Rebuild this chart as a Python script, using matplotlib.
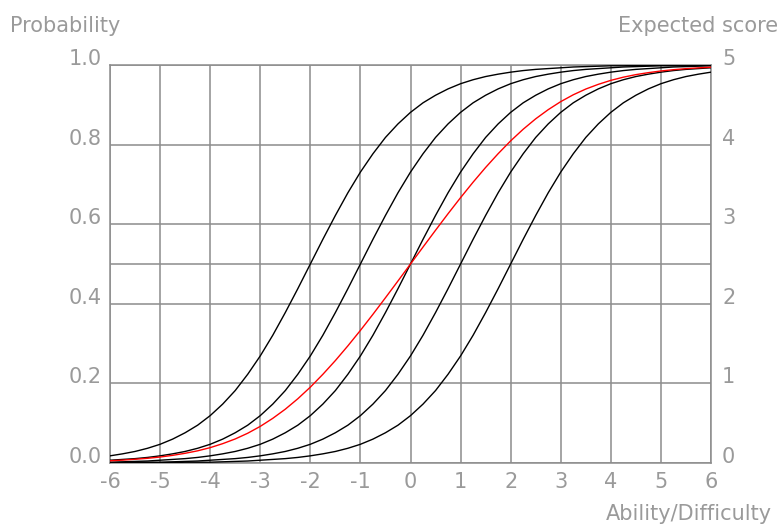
import matplotlib
matplotlib.use("Agg")
import matplotlib.pyplot as plt
import numpy as np

ability = [-6, -5.75, -5.5, -5.25, -5, -4.75, -4.5, -4.25, -4, -3.75, -3.5,
           -3.25, -3, -2.75, -2.5, -2.25, -2, -1.75, -1.5, -1.25, -1, -0.75,
           -0.5, -0.25, 0, 0.25, 0.5, 0.75, 1, 1.25, 1.5, 1.75, 2, 2.25, 2.5,
           2.75, 3, 3.25, 3.5, 3.75, 4, 4.25, 4.5, 4.75, 5, 5.25, 5.5, 5.75, 6]

# probability of success for the five items (difficulty -2, -1, 0, 1, 2)
item_m2 = [0.018, 0.023, 0.029, 0.037, 0.047, 0.060, 0.076, 0.095, 0.119,
           0.148, 0.182, 0.223, 0.269, 0.321, 0.378, 0.438, 0.500, 0.562,
           0.622, 0.679, 0.731, 0.777, 0.818, 0.852, 0.881, 0.905, 0.924,
           0.940, 0.953, 0.963, 0.971, 0.977, 0.982, 0.986, 0.989, 0.991,
           0.993, 0.995, 0.996, 0.997, 0.998, 0.998, 0.999, 0.999, 0.999,
           0.999, 0.999, 1.000, 1.000]
item_m1 = [0.007, 0.009, 0.011, 0.014, 0.018, 0.023, 0.029, 0.037, 0.047,
           0.060, 0.076, 0.095, 0.119, 0.148, 0.182, 0.223, 0.269, 0.321,
           0.378, 0.438, 0.500, 0.562, 0.622, 0.679, 0.731, 0.777, 0.818,
           0.852, 0.881, 0.905, 0.924, 0.940, 0.953, 0.963, 0.971, 0.977,
           0.982, 0.986, 0.989, 0.991, 0.993, 0.995, 0.996, 0.997, 0.998,
           0.998, 0.999, 0.999, 0.999]
item_0 = [0.002, 0.003, 0.004, 0.005, 0.007, 0.009, 0.011, 0.014, 0.018,
          0.023, 0.029, 0.037, 0.047, 0.060, 0.076, 0.095, 0.119, 0.148,
          0.182, 0.223, 0.269, 0.321, 0.378, 0.438, 0.500, 0.562, 0.622,
          0.679, 0.731, 0.777, 0.818, 0.852, 0.881, 0.905, 0.924, 0.940,
          0.953, 0.963, 0.971, 0.977, 0.982, 0.986, 0.989, 0.991, 0.993,
          0.995, 0.996, 0.997, 0.998]
item_p1 = [0.001, 0.001, 0.002, 0.002, 0.002, 0.003, 0.004, 0.005, 0.007,
           0.009, 0.011, 0.014, 0.018, 0.023, 0.029, 0.037, 0.047, 0.060,
           0.076, 0.095, 0.119, 0.148, 0.182, 0.223, 0.269, 0.321, 0.378,
           0.438, 0.500, 0.562, 0.622, 0.679, 0.731, 0.777, 0.818, 0.852,
           0.881, 0.905, 0.924, 0.940, 0.953, 0.963, 0.971, 0.977, 0.982,
           0.986, 0.989, 0.991, 0.993]
item_p2 = [0.000, 0.000, 0.001, 0.001, 0.001, 0.001, 0.002, 0.002, 0.002,
           0.003, 0.004, 0.005, 0.007, 0.009, 0.011, 0.014, 0.018, 0.023,
           0.029, 0.037, 0.047, 0.060, 0.076, 0.095, 0.119, 0.148, 0.182,
           0.223, 0.269, 0.321, 0.378, 0.438, 0.500, 0.562, 0.622, 0.679,
           0.731, 0.777, 0.818, 0.852, 0.881, 0.905, 0.924, 0.940, 0.953,
           0.963, 0.971, 0.977, 0.982]

x_ticks = [-6, -5, -4, -3, -2, -1, 0, 1, 2, 3, 4, 5, 6]
prob_ticks = [0.0, 0.2, 0.4, 0.6, 0.8, 1.0]
score_ticks = [0, 1, 2, 3, 4, 5]

items = [item_m2, item_m1, item_0, item_p1, item_p2]
# expected score (as a fraction of 5) is the mean of the item curves
expected = np.mean(np.array(items), axis=0)

plt.rcParams['font.family'] = ['DejaVu Sans']
plt.rcParams['axes.unicode_minus'] = False

GRID = '#8c8c8c'
TXT = '#9a9a9a'
FS = 15

fig = plt.figure(figsize=(7.79, 5.25), dpi=100)
ax = fig.add_axes([110 / 779, 62 / 525, 601 / 779, 398 / 525])
ax.set_xlim(-6, 6)
ax.set_ylim(0, 1)

# grid: every integer on x, every 0.2 on y plus the 0.5 line
for xv in x_ticks:
    ax.axvline(xv, color=GRID, lw=1.1, zorder=1)
for yv in prob_ticks + [0.5]:
    ax.axhline(yv, color=GRID, lw=1.1, zorder=1)
for s in ax.spines.values():
    s.set_color(GRID)
    s.set_linewidth(1.1)

for it in items:
    ax.plot(ability, it, color='black', lw=1.0, zorder=3)
ax.plot(ability, expected, color='red', lw=1.0, zorder=4)

ax.set_xticks(x_ticks)
ax.set_xticklabels([str(v) for v in x_ticks])
ax.set_yticks(prob_ticks)
ax.set_yticklabels(["%.1f" % v for v in prob_ticks])
ax.tick_params(axis='x', length=0, pad=6.5, labelsize=FS, labelcolor=TXT)
ax.tick_params(axis='y', length=0, pad=6, labelsize=FS, labelcolor=TXT)
for lbl in ax.get_yticklabels():
    lbl.set_verticalalignment('baseline')

ax2 = ax.twinx()
ax2.set_ylim(0, 5)
ax2.set_yticks(score_ticks)
ax2.set_yticklabels([str(v) for v in score_ticks])
ax2.tick_params(axis='y', length=0, pad=8, labelsize=FS, labelcolor=TXT)
for lbl in ax2.get_yticklabels():
    lbl.set_verticalalignment('baseline')
for s in ax2.spines.values():
    s.set_visible(False)

fig.text(10 / 779, 1 - 32 / 525, "Probability", fontsize=FS, color=TXT,
         ha='left', va='baseline')
fig.text(778 / 779, 1 - 32 / 525, "Expected score", fontsize=FS, color=TXT,
         ha='right', va='baseline')
fig.text(772 / 779, 1 - 520 / 525, "Ability/Difficulty", fontsize=FS,
         color=TXT, ha='right', va='baseline')

fig.savefig("out.png", dpi=100)
